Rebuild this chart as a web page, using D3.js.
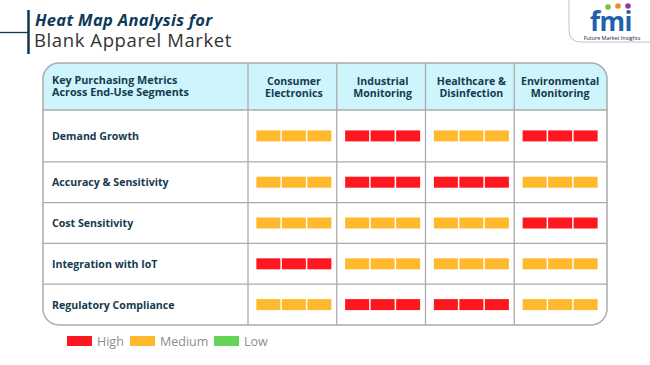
<!DOCTYPE html>
<html><head><meta charset="utf-8">
<script src="https://cdn.jsdelivr.net/npm/d3@7"></script>
<style>html,body{margin:0;padding:0;background:#fff}svg{display:block}text{font-family:"Open Sans",sans-serif}</style>
</head><body>
<script>
const metrics = ["Demand Growth","Accuracy & Sensitivity","Cost Sensitivity","Integration with IoT","Regulatory Compliance"];
const segments = [["Consumer","Electronics"],["Industrial","Monitoring"],["Healthcare &","Disinfection"],["Environmental","Monitoring"]];
const levels = ["High","Medium","Low"];
const levelValues = [
  ["Medium","High","Medium","High"],
  ["Medium","High","High","Medium"],
  ["Medium","Medium","Medium","High"],
  ["High","Medium","Medium","Medium"],
  ["Medium","High","High","Medium"]
];
const headerTitle = ["Key Purchasing Metrics","Across End-Use Segments"];

const W=650,H=365;
const svg=d3.select("body").append("svg").attr("width",W).attr("height",H);
const color=d3.scaleOrdinal().domain(levels).range(["#ff1720","#ffb92c","#63d457"]);
const navy="#163a4f";

// title
svg.append("line").attr("x1",0).attr("x2",28).attr("y1",32.5).attr("y2",32.5).attr("stroke","#0d3a52").attr("stroke-width",1.3);
svg.append("line").attr("x1",28.5).attr("x2",28.5).attr("y1",10).attr("y2",54).attr("stroke","#0d3a52").attr("stroke-width",2.5);
svg.append("text").attr("x",35).attr("y",25.5).attr("font-size",16.5).attr("font-weight",700).attr("font-style","italic").attr("fill","#0e3a5a").attr("letter-spacing",0.3).text("Heat Map Analysis for");
svg.append("text").attr("x",34).attr("y",46.5).attr("font-size",18.5).attr("fill","#333").attr("letter-spacing",0.6).text("Blank Apparel Market");

// logo
const lg=svg.append("g");
lg.append("path").attr("d","M569,0 V30 Q569,42 581,42 H650").attr("fill","none").attr("stroke","#b8c4d0").attr("stroke-width",1);
lg.append("text").attr("x",611).attr("y",31).attr("text-anchor","middle").attr("font-size",26).attr("font-weight",700).attr("fill","#1e62ad").attr("font-family","DejaVu Serif").attr("letter-spacing",-0.5).text("fmi");
[["#7cc242",608,7],["#f58a1f",618,6],["#8e3f98",628,6]].forEach(([c,x,y])=>lg.append("circle").attr("cx",x).attr("cy",y).attr("r",2.8).attr("fill",c));
lg.append("text").attr("x",612).attr("y",39.5).attr("text-anchor","middle").attr("font-size",5.4).attr("fill","#223").text("Future Market Insights");

// table geometry
const L=43,R=607,T=63,HB=110,B=325,rad=16;
const x=d3.scaleBand().domain(d3.range(segments.length)).range([248,603]);
const yRows=d3.scaleBand().domain(d3.range(metrics.length)).range([121,B]);
const rowTop=i=> i===0?HB:yRows(i);
const rowBot=i=> yRows(i)+yRows.bandwidth();
const rowMid=i=>(rowTop(i)+rowBot(i))/2;
const colMid=j=>x(j)+x.bandwidth()/2+1.5;

// header fill
svg.append("path").attr("d",`M${L},${HB} V${T+rad} Q${L},${T} ${L+rad},${T} H${R-rad} Q${R},${T} ${R},${T+rad} V${HB} Z`).attr("fill","#cff5fc");
// grid lines
const grid=svg.append("g").attr("stroke","#ababab").attr("stroke-width",1.3);
d3.range(metrics.length).forEach(i=>{ grid.append("line").attr("x1",L).attr("x2",R).attr("y1",rowTop(i)).attr("y2",rowTop(i)); });
d3.range(segments.length).forEach(j=>{ grid.append("line").attr("x1",x(j)).attr("x2",x(j)).attr("y1",T).attr("y2",B); });
// outer border
svg.append("rect").attr("x",L).attr("y",T).attr("width",R-L).attr("height",B-T).attr("rx",rad).attr("ry",rad).attr("fill","none").attr("stroke","#ababab").attr("stroke-width",1.5);

// header texts (one text per line)
headerTitle.forEach((t,i)=>svg.append("text").attr("x",52).attr("y",84+i*12).attr("font-size",10.8).attr("font-weight",700).attr("fill",navy).text(t));
const segLines=[];
segments.forEach((s,j)=>s.forEach((t,i)=>segLines.push({j,i,t})));
svg.selectAll("text.seg").data(segLines).join("text").attr("class","seg")
  .attr("x",d=>colMid(d.j)).attr("y",d=>85+d.i*12).attr("text-anchor","middle").attr("font-size",10.6).attr("font-weight",700).attr("fill",navy).text(d=>d.t);

// row labels
svg.selectAll("text.row").data(metrics).join("text").attr("class","row")
  .attr("x",52).attr("y",(d,i)=>rowMid(i)+4).attr("font-size",10.6).attr("font-weight",700).attr("fill",navy).text(d=>d);

// bars
const segW=24,gap=1.5,barH=11;
const cells=[];
levelValues.forEach((row,i)=>row.forEach((v,j)=>{ for(let k=0;k<3;k++) cells.push({i,j,k,v}); }));
svg.append("g").selectAll("rect").data(cells).join("rect")
  .attr("x",d=>colMid(d.j)-(3*segW+2*gap)/2+d.k*(segW+gap))
  .attr("y",d=>rowMid(d.i)-barH/2).attr("width",segW).attr("height",barH).attr("fill",d=>color(d.v));

// legend
const lgX=[67,130,214];
const leg=svg.append("g").selectAll("g").data(levels).join("g").attr("transform",(d,i)=>`translate(${lgX[i]},336)`);
leg.append("rect").attr("width",25).attr("height",10).attr("fill",d=>color(d));
leg.append("text").attr("x",30).attr("y",9.5).attr("font-size",12.5).attr("fill","#8d8d8d").text(d=>d);
</script>
</body></html>
